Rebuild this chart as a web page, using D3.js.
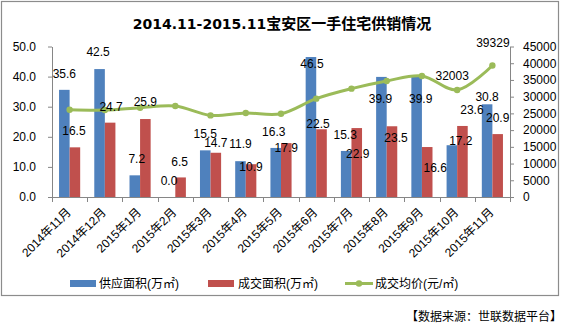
<!DOCTYPE html>
<html><head><meta charset="utf-8">
<script src="https://cdn.jsdelivr.net/npm/d3@7"></script>
<style>body{margin:0;background:#fff}svg{display:block}text{font-family:"Liberation Sans","Noto Sans CJK SC",sans-serif}</style>
</head><body><svg id="c" width="564" height="336"></svg>
<script>
const titleLatin = "2014.11-2015.11";
const titleCjk = "宝安区一手住宅供销情况";
const months = ["2014年11月","2014年12月","2015年1月","2015年2月","2015年3月","2015年4月","2015年5月","2015年6月","2015年7月","2015年8月","2015年9月","2015年10月","2015年11月"];
const supplyArea = [35.6,42.5,7.2,0.0,15.5,11.9,16.3,46.5,15.3,39.9,39.9,17.2,30.8];
const dealArea = [16.5,24.7,25.9,6.5,14.7,10.9,17.9,22.5,22.9,23.5,16.6,23.6,20.9];
const avgPrice = [26100,26000,26700,27200,24400,25100,24900,29400,32400,34700,36200,32003,39329];
const priceLabelShown = [false,false,false,false,false,false,false,false,false,false,false,true,true];
const leftTicks = [0,10,20,30,40,50];
const rightTicks = [0,5000,10000,15000,20000,25000,30000,35000,40000,45000];
const seriesNames = ["供应面积(万㎡)","成交面积(万㎡)","成交均价(元/㎡)"];
const sourceText = "【数据来源：世联数据平台】";

// label nudges (dx, dy in px relative to bar top / point)
const supplyNudge = [[0,-16.5],[-1.5,-17],[2,-17],[-1,-16],[0,-17],[0,-17],[-2,-16],[1,6.5],[-1,-16],[-1,21.5],[4,21.5],[9,-4],[0,-7]];
const dealNudge = [[-1,-17],[1,-16],[0,-17],[-1,-16],[0,-10],[0,3],[0,5],[-3.5,-5],[1,26],[4,12],[8,21],[9.5,-16],[0,-16]];
const priceNudge = [null,null,null,null,null,null,null,null,null,null,null,[-5,-14.5],[0.5,-23]];

const C = {blue:"#4F81BD", red:"#C0504D", green:"#9BBB59", axis:"#868686"};
const svg = d3.select("#c");
const L = 52, R = 510, T = 46.5, B = 197;

svg.append("rect").attr("x",1.5).attr("y",1.5).attr("width",557).attr("height",294)
  .attr("fill","#fff").attr("stroke","#8c8c8c").attr("stroke-width",1.2);

const tt = svg.append("text").attr("x",282).attr("y",29).attr("text-anchor","middle")
  .attr("font-weight","bold").attr("fill","#000");
tt.append("tspan").attr("font-family",'"DejaVu Sans",sans-serif').attr("font-size",14).text(titleLatin);
tt.append("tspan").attr("font-size",15).text(titleCjk);

const x = d3.scaleBand().domain(months).range([L,R]);
const bw = x.bandwidth();
const x1 = d3.scaleBand().domain(["s","d"]).range([bw*0.2, bw*0.8]);
const yL = d3.scaleLinear().domain([0,50]).range([B,T]);
const yR = d3.scaleLinear().domain([0,45000]).range([B,T]);

// bars
const g = svg.append("g");
g.selectAll("rect.s").data(supplyArea).join("rect").attr("class","s")
  .attr("x",(d,i)=>x(months[i])+x1("s")).attr("width",x1.bandwidth())
  .attr("y",d=>yL(d)).attr("height",d=>B-yL(d)).attr("fill",C.blue);
g.selectAll("rect.d").data(dealArea).join("rect").attr("class","d")
  .attr("x",(d,i)=>x(months[i])+x1("d")).attr("width",x1.bandwidth())
  .attr("y",d=>yL(d)).attr("height",d=>B-yL(d)).attr("fill",C.red);

// axes
const axL = svg.append("g").attr("transform",`translate(${L},0)`)
  .call(d3.axisLeft(yL).tickValues(leftTicks).tickFormat(d3.format(".1f")).tickSize(4).tickSizeOuter(0).tickPadding(12));
const axR = svg.append("g").attr("transform",`translate(${R},0)`)
  .call(d3.axisRight(yR).tickValues(rightTicks).tickFormat(d3.format("d")).tickSize(4).tickSizeOuter(0).tickPadding(9));
[axL,axR].forEach(a=>{
  a.selectAll("path,line").attr("stroke",C.axis);
  a.selectAll("text").attr("font-size",12).attr("fill","#000").attr("font-family",'"Liberation Sans",sans-serif');
});
const bx = svg.append("g");
bx.append("line").attr("x1",L).attr("x2",R).attr("y1",B+0.5).attr("y2",B+0.5).attr("stroke",C.axis);
const bounds = months.map(m=>x(m)).concat([x.range()[1]]);
bx.selectAll("line.t").data(bounds).join("line").attr("class","t")
  .attr("x1",d=>Math.round(d)+0.5).attr("x2",d=>Math.round(d)+0.5).attr("y1",B).attr("y2",B+5).attr("stroke",C.axis);
bx.selectAll("text").data(months).join("text")
  .attr("transform",d=>`translate(${x(d)+bw/2+2},${B+16}) rotate(-45)`)
  .attr("text-anchor","end").attr("font-size",12).attr("fill","#000").text(d=>d);

// line
const cx = i => x(months[i]) + bw/2;
const line = d3.line().x((d,i)=>cx(i)).y(d=>yR(d)).curve(d3.curveCatmullRom.alpha(0.5));
svg.append("path").datum(avgPrice).attr("d",line).attr("fill","none").attr("stroke",C.green).attr("stroke-width",3);
svg.selectAll("circle.p").data(avgPrice).join("circle").attr("class","p")
  .attr("cx",(d,i)=>cx(i)).attr("cy",d=>yR(d)).attr("r",3.2).attr("fill",C.green);

// data labels
const lab = svg.append("g").attr("font-size",12).attr("fill","#000").attr("text-anchor","middle");
lab.selectAll("text.s").data(supplyArea).join("text").attr("class","s")
  .attr("x",(d,i)=>x(months[i])+x1("s")+x1.bandwidth()/2+supplyNudge[i][0])
  .attr("y",(d,i)=>yL(d)+supplyNudge[i][1]).attr("dy","0.35em").text(d=>d.toFixed(1));
lab.selectAll("text.d").data(dealArea).join("text").attr("class","d")
  .attr("x",(d,i)=>x(months[i])+x1("d")+x1.bandwidth()/2+dealNudge[i][0])
  .attr("y",(d,i)=>yL(d)+dealNudge[i][1]).attr("dy","0.35em").text(d=>d.toFixed(1));
lab.selectAll("text.p").data(avgPrice.map((v,i)=>({v,i})).filter(o=>priceLabelShown[o.i])).join("text").attr("class","p")
  .attr("x",o=>cx(o.i)+priceNudge[o.i][0]).attr("y",o=>yR(o.v)+priceNudge[o.i][1]).attr("dy","0.35em").text(o=>String(o.v));

// legend
const lg = svg.append("g");
const ly = 283.5;
lg.append("rect").attr("x",70).attr("y",ly-3.5).attr("width",26).attr("height",7).attr("fill",C.blue);
lg.append("rect").attr("x",208).attr("y",ly-3.5).attr("width",26).attr("height",7).attr("fill",C.red);
lg.append("line").attr("x1",345).attr("x2",373).attr("y1",ly).attr("y2",ly).attr("stroke",C.green).attr("stroke-width",3);
lg.append("circle").attr("cx",359).attr("cy",ly).attr("r",3.2).attr("fill",C.green);
[[99,0],[238,1],[375,2]].forEach(([lx,k])=>{
  lg.append("text").attr("x",lx).attr("y",ly).attr("dy","0.38em").attr("font-size",12).attr("fill","#000").text(seriesNames[k]);
});

svg.append("text").attr("x",562).attr("y",317).attr("dy","0.36em").attr("text-anchor","end")
  .attr("font-size",12).attr("fill","#000").text(sourceText);
</script></body></html>
